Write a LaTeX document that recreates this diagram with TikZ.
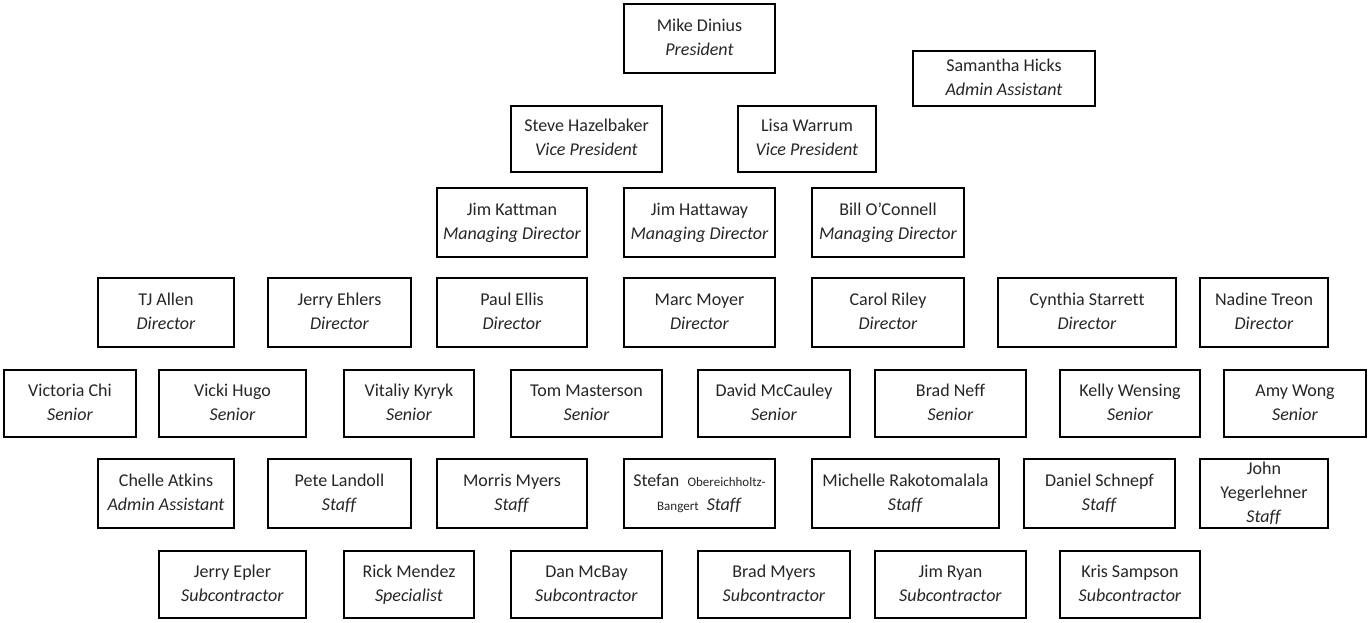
\documentclass[tikz,border=0pt]{standalone}
\usepackage{fontspec}
\setmainfont[Ligatures=NoCommon]{Carlito}
\definecolor{ink}{HTML}{262626}
\tikzset{
  pbox/.style={draw=black, line width=0.7pt, rectangle, inner sep=0pt, outer sep=0pt,
    align=center, font=\fontsize{9}{12}\selectfont, text=ink},
  base/.style={draw=black, line width=1.3pt}
}
\newcommand\oboxraw[6]{\node[pbox, minimum width={(#4-#2)*0.5pt}, minimum height={(#5-#3)*0.5pt}] (#1) at ({(#2+#4)/2},{(#3+#5)/2}) {#6};
\draw[base] (#1.south west) -- (#1.south east);}
\newcommand\obox[6]{\oboxraw{#1}{#2}{#3}{#4}{#5}{\strut#6\strut}}
\newcommand\ttl[1]{\textit{#1}}
\begin{document}
\begin{tikzpicture}[x=0.5pt,y=-0.5pt]
\useasboundingbox[fill=white] (0,0) rectangle (1368,622);
% row 1
\obox{mike}{624}{4}{775}{73}{Mike Dinius\\\ttl{President}}
\obox{samantha}{913}{51}{1095}{106}{Samantha Hicks\\\ttl{Admin Assistant}}
% VPs
\obox{steve}{511}{106}{662}{172}{Steve Hazelbaker\\\ttl{Vice President}}
\obox{lisa}{738}{106}{876}{172}{Lisa Warrum\\\ttl{Vice President}}
% managing directors
\obox{kattman}{437}{188}{587}{257}{Jim Kattman\\\ttl{Managing Director}}
\obox{hattaway}{624}{188}{775}{257}{Jim Hattaway\\\ttl{Managing Director}}
\obox{oconnell}{812}{188}{964}{257}{Bill O'Connell\\\ttl{Managing Director}}
% directors
\obox{allen}{98}{278}{234}{347}{TJ Allen\\\ttl{Director}}
\obox{ehlers}{268}{278}{411}{347}{Jerry Ehlers\\\ttl{Director}}
\obox{ellis}{437}{278}{587}{347}{Paul Ellis\\\ttl{Director}}
\obox{moyer}{624}{278}{775}{347}{Marc Moyer\\\ttl{Director}}
\obox{riley}{812}{278}{964}{347}{Carol Riley\\\ttl{Director}}
\obox{starrett}{998}{278}{1176}{347}{Cynthia Starrett\\\ttl{Director}}
\obox{treon}{1200}{278}{1328}{347}{Nadine Treon\\\ttl{Director}}
% seniors
\obox{chi}{4}{370}{136}{437}{Victoria Chi\\\ttl{Senior}}
\obox{hugo}{159}{370}{306}{437}{Vicki Hugo\\\ttl{Senior}}
\obox{kyryk}{344}{370}{474}{437}{Vitaliy Kyryk\\\ttl{Senior}}
\obox{masterson}{511}{370}{662}{437}{Tom Masterson\\\ttl{Senior}}
\obox{mccauley}{698}{370}{850}{437}{David McCauley\\\ttl{Senior}}
\obox{neff}{875}{370}{1026}{437}{Brad Neff\\\ttl{Senior}}
\obox{wensing}{1060}{370}{1200}{437}{Kelly Wensing\\\ttl{Senior}}
\obox{wong}{1224}{370}{1366}{437}{Amy Wong\\\ttl{Senior}}
% staff
\obox{atkins}{98}{459}{234}{528}{Chelle Atkins\\\ttl{Admin Assistant}}
\obox{landoll}{268}{459}{411}{528}{Pete Landoll\\\ttl{Staff}}
\obox{myersm}{437}{459}{587}{528}{Morris Myers\\\ttl{Staff}}
\obox{stefan}{624}{459}{775}{528}{Stefan\ \ {\fontsize{6.5}{8}\selectfont Obereichholtz-}\\{\fontsize{6.5}{8}\selectfont Bangert}\ \ \ttl{Staff}}
\obox{rakotomalala}{812}{459}{999}{528}{Michelle Rakotomalala\\\ttl{Staff}}
\obox{schnepf}{1024}{459}{1175}{528}{Daniel Schnepf\\\ttl{Staff}}
\oboxraw{yegerlehner}{1200}{459}{1328}{528}{\fontsize{9}{11}\selectfont John\\Yegerlehner\\\ttl{Staff}}
% subcontractors
\obox{epler}{159}{551}{306}{618}{Jerry Epler\\\ttl{Subcontractor}}
\obox{mendez}{344}{551}{474}{618}{Rick Mendez\\\ttl{Specialist}}
\obox{mcbay}{511}{551}{662}{618}{Dan McBay\\\ttl{Subcontractor}}
\obox{myersb}{698}{551}{850}{618}{Brad Myers\\\ttl{Subcontractor}}
\obox{ryan}{875}{551}{1026}{618}{Jim Ryan\\\ttl{Subcontractor}}
\obox{sampson}{1060}{551}{1200}{618}{Kris Sampson\\\ttl{Subcontractor}}
\end{tikzpicture}
\end{document}
